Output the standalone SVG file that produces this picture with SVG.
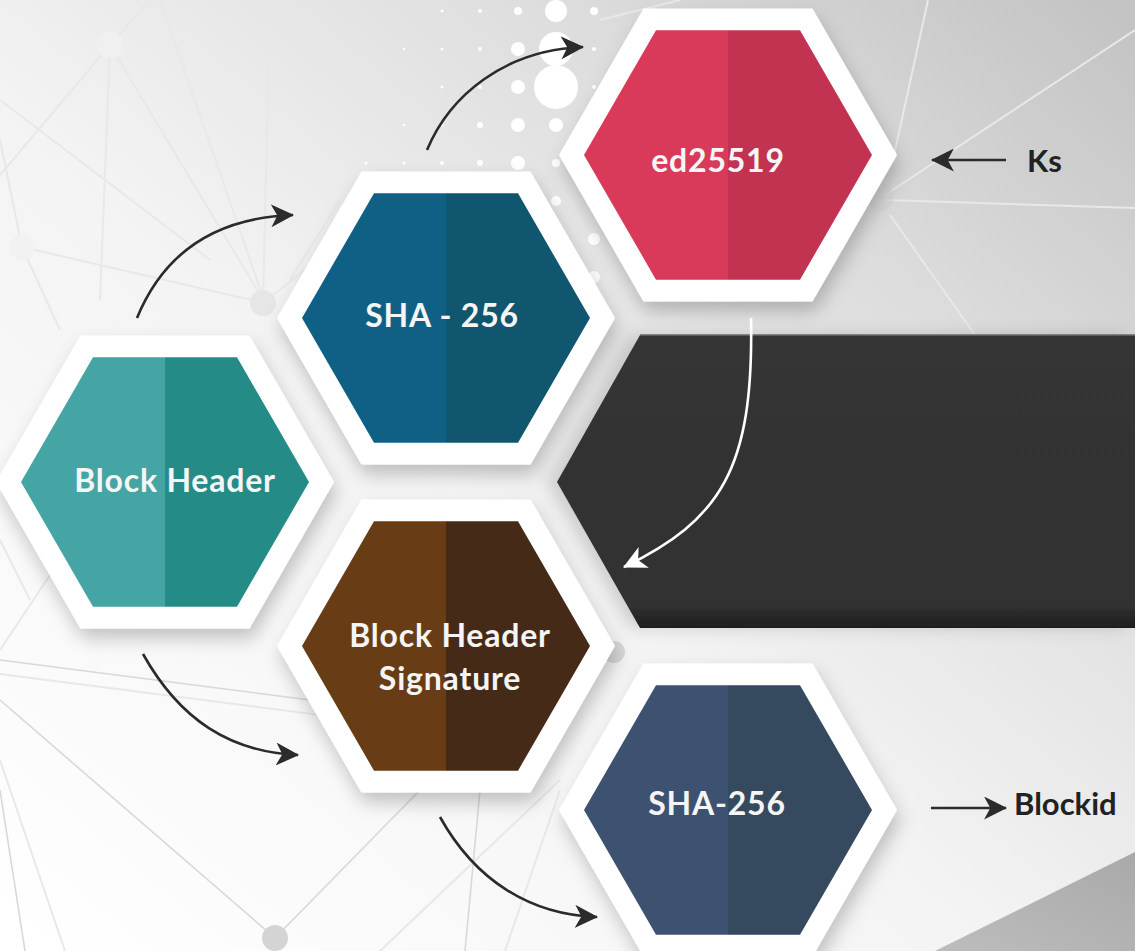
<svg xmlns="http://www.w3.org/2000/svg" width="1135" height="951" viewBox="0 0 1135 951">
  <defs>
    <style>
      .lbl { font-family: Lato, "Open Sans", "Liberation Sans", sans-serif; font-weight: 700; font-size: 32px; fill: #f5f5f5; text-anchor: middle; letter-spacing: 0.8px; }
      .side { font-family: Lato, "Open Sans", "Liberation Sans", sans-serif; font-weight: 700; font-size: 31px; fill: #222222; }
      .conn { fill: none; stroke: #2b2b2b; stroke-width: 2.6; }
      .connw { fill: none; stroke: #ffffff; stroke-width: 2.6; }
      .net { stroke: #e8e8e8; stroke-width: 2; fill: none; }
      .netd { stroke: #d8d8d8; stroke-width: 1.6; fill: none; }
      .dot { fill: #ffffff; }
      .outer { fill: #ffffff; }
    </style>
    <linearGradient id="bg" x1="0" y1="1" x2="1" y2="0">
      <stop offset="0" stop-color="#ffffff"/>
      <stop offset="0.45" stop-color="#f3f3f3"/>
      <stop offset="0.75" stop-color="#dcdcdc"/>
      <stop offset="1" stop-color="#c2c2c2"/>
    </linearGradient>
    <linearGradient id="band" x1="0" y1="0" x2="0" y2="1">
      <stop offset="0" stop-color="#343434"/>
      <stop offset="0.92" stop-color="#323232"/>
      <stop offset="1" stop-color="#1e1e1e"/>
    </linearGradient>
    <linearGradient id="corner" x1="0" y1="1" x2="1" y2="0">
      <stop offset="0" stop-color="#bdbdbd"/>
      <stop offset="1" stop-color="#a9a9a9"/>
    </linearGradient>
    <filter id="shadow" x="-20%" y="-20%" width="140%" height="150%">
      <feDropShadow dx="3" dy="10" stdDeviation="9" flood-color="#000000" flood-opacity="0.22"/>
    </filter>
    <filter id="bandsh" x="-10%" y="-10%" width="120%" height="130%">
      <feDropShadow dx="-10" dy="0" stdDeviation="8" flood-color="#000000" flood-opacity="0.15"/>
    </filter>
    <polygon id="hexOuter" points="-169,0 -84.5,-146.4 84.5,-146.4 169,0 84.5,146.4 -84.5,146.4"/>
    <polygon id="hexL" points="-144,0 -72,-124.7 0,-124.7 0,124.7 -72,124.7"/>
    <polygon id="hexR" points="0,-124.7 72,-124.7 144,0 72,124.7 0,124.7"/>
    <marker id="ah" viewBox="0 0 22 22" refX="21" refY="11" markerWidth="23" markerHeight="23" markerUnits="userSpaceOnUse" orient="auto">
      <path d="M0,0 L22,11 L0,22 L6,11 z" fill="#2b2b2b"/>
    </marker>
    <marker id="ahw" viewBox="0 0 22 22" refX="21" refY="11" markerWidth="23" markerHeight="23" markerUnits="userSpaceOnUse" orient="auto">
      <path d="M0,0 L22,11 L0,22 L6,11 z" fill="#ffffff"/>
    </marker>
  </defs>

  <!-- background -->
  <rect x="0" y="0" width="1135" height="951" fill="url(#bg)"/>
  <g id="network">
    <line class="net" x1="110" y1="45" x2="265" y2="303"/>
    <line class="net" x1="110" y1="45" x2="0" y2="175"/>
    <line class="net" x1="110" y1="45" x2="150" y2="0"/>
    <line class="net" x1="110" y1="45" x2="100" y2="300"/>
    <line class="net" x1="22" y1="247" x2="265" y2="303"/>
    <line class="net" x1="22" y1="247" x2="0" y2="140"/>
    <line class="net" x1="22" y1="247" x2="60" y2="330"/>
    <line class="net" x1="0" y1="100" x2="210" y2="260"/>
    <line class="net" x1="160" y1="0" x2="265" y2="303"/>
    <line class="net" x1="270" y1="0" x2="263" y2="303"/>
    <line class="net" x1="263" y1="303" x2="330" y2="250"/>
    <line class="net" x1="340" y1="200" x2="290" y2="280"/>
    <line class="net" x1="0" y1="540" x2="30" y2="600"/>
    <line class="net" x1="0" y1="650" x2="60" y2="560"/>
    <line class="netd" x1="0" y1="660" x2="310" y2="700"/>
    <line class="net" x1="0" y1="674" x2="320" y2="715"/>
    <line class="netd" x1="0" y1="700" x2="275" y2="938"/>
    <line class="netd" x1="275" y1="938" x2="420" y2="790"/>
    <line class="netd" x1="0" y1="790" x2="25" y2="951"/>
    <line class="net" x1="0" y1="760" x2="65" y2="951"/>
    <line class="netd" x1="480" y1="790" x2="465" y2="951"/>
    <line class="net" x1="560" y1="790" x2="505" y2="951"/>
    <line class="net" x1="560" y1="780" x2="380" y2="951"/>
    <circle cx="275" cy="938" r="13" fill="#d4d4d4"/>
    <circle cx="263" cy="303" r="13" fill="#e6e6e6"/>
    <circle cx="110" cy="45" r="13" fill="#f0f0f0"/>
    <circle cx="22" cy="247" r="13" fill="#f2f2f2"/>
    <circle cx="614" cy="652" r="11" fill="#d8d8d8"/>
    <line class="net" x1="885" y1="195" x2="1135" y2="30"/>
    <line class="net" x1="885" y1="200" x2="1135" y2="208"/>
    <line class="net" x1="890" y1="215" x2="975" y2="335"/>
    <line class="net" x1="928" y1="0" x2="893" y2="160"/>
    <line class="net" x1="920" y1="625" x2="1135" y2="735"/>
    <line class="net" x1="600" y1="20" x2="680" y2="0"/>
    <circle cx="880" cy="197" r="14" fill="#d3d3d3" opacity="0.6"/>
  </g>
  <g id="dots">
    <circle class="dot" cx="480" cy="11" r="2"/>
    <circle class="dot" cx="518" cy="11" r="4"/>
    <circle class="dot" cx="556" cy="11" r="11"/>
    <circle class="dot" cx="594" cy="11" r="4"/>
    <circle class="dot" cx="480" cy="49" r="2"/>
    <circle class="dot" cx="518" cy="49" r="7"/>
    <circle class="dot" cx="556" cy="49" r="17"/>
    <circle class="dot" cx="594" cy="49" r="2"/>
    <circle class="dot" cx="480" cy="87" r="2"/>
    <circle class="dot" cx="518" cy="87" r="7"/>
    <circle class="dot" cx="556" cy="87" r="22"/>
    <circle class="dot" cx="594" cy="87" r="2"/>
    <circle class="dot" cx="480" cy="125" r="3"/>
    <circle class="dot" cx="518" cy="125" r="7"/>
    <circle class="dot" cx="556" cy="125" r="7"/>
    <circle class="dot" cx="480" cy="163" r="3"/>
    <circle class="dot" cx="518" cy="163" r="7"/>
    <circle class="dot" cx="556" cy="163" r="4"/>
    <circle class="dot" cx="556" cy="201" r="5"/>
    <circle class="dot" cx="594" cy="239" r="6"/>
    <circle class="dot" cx="594" cy="277" r="6"/>
    <circle class="dot" cx="442" cy="11" r="1.5"/>
    <circle class="dot" cx="442" cy="49" r="1.5"/>
    <circle class="dot" cx="442" cy="87" r="1.5"/>
    <circle class="dot" cx="442" cy="125" r="1.5"/>
    <circle class="dot" cx="442" cy="163" r="2"/>
    <circle class="dot" cx="404" cy="49" r="1.2"/>
    <circle class="dot" cx="404" cy="125" r="1.2"/>
    <circle class="dot" cx="404" cy="163" r="1.5"/>
    <circle class="dot" cx="366" cy="163" r="1.5"/>
  </g>

  <!-- dark band and corner -->
  <polygon id="band-shape" points="640,335 1135,335 1135,628 640,628 557,482" fill="url(#band)" filter="url(#bandsh)"/>
  <line x1="640" y1="335" x2="1135" y2="335" stroke="#6a6a6a" stroke-width="1.5"/>
  <polygon points="935,951 1135,852 1135,951" fill="url(#corner)"/>

  <!-- nodes -->
  <g id="node-block-header" transform="translate(165,482)">
    <use href="#hexOuter" class="outer" filter="url(#shadow)"/>
    <use href="#hexL" fill="#45a5a5"/>
    <use href="#hexR" fill="#258b87"/>
    <text class="lbl" x="10" y="10">Block Header</text>
  </g>
  <g id="node-sha256-top" transform="translate(446,318)">
    <use href="#hexOuter" class="outer" filter="url(#shadow)"/>
    <use href="#hexL" fill="#106085"/>
    <use href="#hexR" fill="#10566f"/>
    <text class="lbl" x="-4" y="9">SHA - 256</text>
  </g>
  <g id="node-ed25519" transform="translate(728,155)">
    <use href="#hexOuter" class="outer" filter="url(#shadow)"/>
    <use href="#hexL" fill="#d93a5a"/>
    <use href="#hexR" fill="#c23251"/>
    <text class="lbl" x="-10" y="17">ed25519</text>
  </g>
  <g id="node-block-header-signature" transform="translate(446,646)">
    <use href="#hexOuter" class="outer" filter="url(#shadow)"/>
    <use href="#hexL" fill="#683c14"/>
    <use href="#hexR" fill="#452a18"/>
    <text class="lbl" x="4" y="1">Block Header</text>
    <text class="lbl" x="4" y="44">Signature</text>
  </g>
  <g id="node-sha256-bottom" transform="translate(728,810)">
    <use href="#hexOuter" class="outer" filter="url(#shadow)"/>
    <use href="#hexL" fill="#3d5170"/>
    <use href="#hexR" fill="#35495f"/>
    <text class="lbl" x="-11" y="5">SHA-256</text>
  </g>
  <g id="node-ks">
    <text class="side" x="1027" y="172">Ks</text>
  </g>
  <g id="node-blockid">
    <text class="side" x="1014" y="815">Blockid</text>
  </g>

  <!-- connectors -->
  <g id="connectors">
    <path class="conn" d="M137,318 C160,262 205,218 293,215" marker-end="url(#ah)"/>
    <path class="conn" d="M427,150 C450,95 505,50 583,47" marker-end="url(#ah)"/>
    <path class="connw" d="M751,318 C754,470 720,520 624,567" marker-end="url(#ahw)"/>
    <path class="conn" d="M143,654 C180,720 230,752 298,755" marker-end="url(#ah)"/>
    <path class="conn" d="M440,817 C475,880 530,915 597,917" marker-end="url(#ah)"/>
    <path class="conn" d="M1006,160 L932,160" marker-end="url(#ah)"/>
    <path class="conn" d="M931,808 L1006,808" marker-end="url(#ah)"/>
  </g>
</svg>
